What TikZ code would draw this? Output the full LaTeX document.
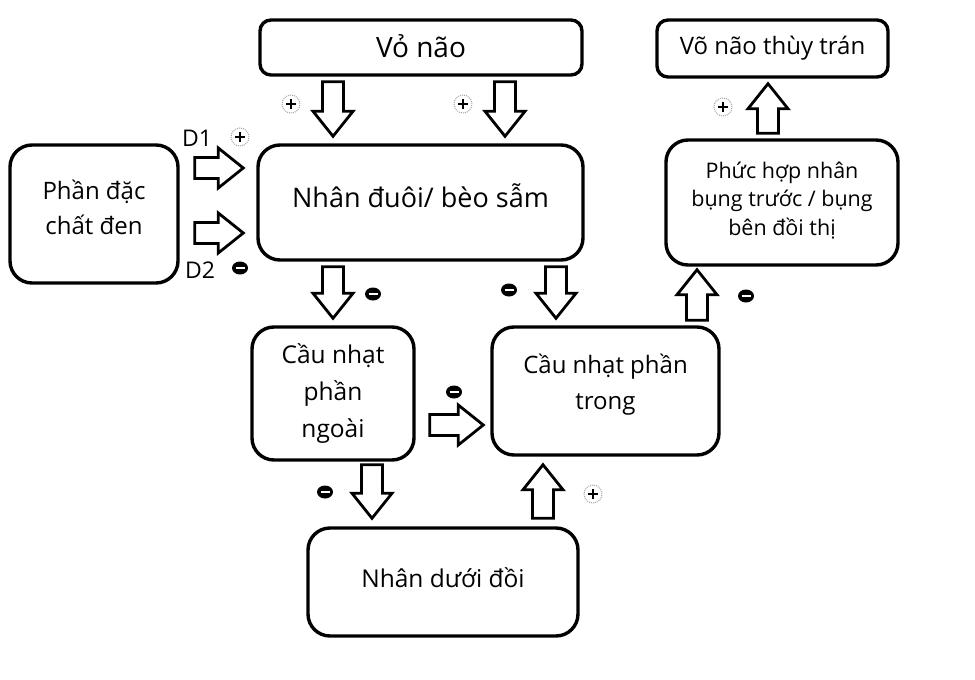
\documentclass[tikz,border=0pt]{standalone}
\usepackage{fontspec}
\setmainfont{Open Sans}
\usetikzlibrary{calc,shapes.geometric}
\tikzset{
  box/.style={draw, line width=3.4pt, rounded corners=22pt, align=center, fill=white, inner sep=2pt},
  smallr/.style={rounded corners=11pt},
  bt/.style={align=center, inner sep=0pt},
  blockarr/.style={draw, line width=2.8pt, fill=white, line join=miter},
  plussign/.style={circle, draw=gray!70, densely dotted, line width=1pt, minimum size=18pt, inner sep=0pt,
    path picture={\draw[black, solid, line width=2.2pt] ([xshift=-5pt]path picture bounding box.center) -- ([xshift=5pt]path picture bounding box.center)
      ([yshift=-5pt]path picture bounding box.center) -- ([yshift=5pt]path picture bounding box.center);}},
  minussign/.style={ellipse, fill=black, minimum width=16pt, minimum height=13pt, inner sep=0pt,
    path picture={\draw[white, line width=2pt] ([xshift=-4.5pt]path picture bounding box.center) -- ([xshift=4.5pt]path picture bounding box.center);}},
  lbl/.style={inner sep=0pt, font=\fontsize{23}{26}\selectfont}
}
\newcommand\barrow[2]{%
  \draw[blockarr] let \p1=(#1), \p2=(#2), \n1={atan2(\y2-\y1,\x2-\x1)}, \n2={veclen(\x2-\x1,\y2-\y1)} in
   [shift={(\p1)}, rotate=\n1] (0,-10.5) -- (\n2-25,-10.5) -- (\n2-25,-20) -- (\n2,0) -- (\n2-25,20) -- (\n2-25,10.5) -- (0,10.5) -- cycle;}
\begin{document}
\begin{tikzpicture}[x=1pt,y=-1pt]
\useasboundingbox (0,0) rectangle (975,680);
\fill[white] (0,0) rectangle (975,680);
\node[box, smallr, minimum width=322pt, minimum height=55pt,
  label={[bt, font=\fontsize{28}{30}\selectfont, yshift=1pt]center:Vỏ não}] (vo) at (421,47.5) {};
\node[box, smallr, minimum width=231pt, minimum height=57pt,
  label={[bt, font=\fontsize{24}{30}\selectfont, yshift=0pt]center:Võ não thùy trán}] (vtt) at (772.5,48.5) {};
\node[box, minimum width=325pt, minimum height=115pt,
  label={[bt, font=\fontsize{27}{34}\selectfont, yshift=7pt]center:Nhân đuôi/ bèo sẫm}] (nd) at (420.5,202.5) {};
\node[box, minimum width=168pt, minimum height=138pt,
  label={[bt, font=\fontsize{24}{35}\selectfont, yshift=6.5pt]center:{Phần đặc\\chất đen}}] (sn) at (94,214) {};
\node[box, minimum width=232pt, minimum height=125pt,
  label={[bt, font=\fontsize{21.5}{28.5}\selectfont, yshift=2pt]center:{Phức hợp nhân\\bụng trước / bụng\\bên đồi thị}}] (ph) at (782,202.5) {};
\node[box, minimum width=162pt, minimum height=133pt,
  label={[bt, font=\fontsize{24.5}{37}\selectfont, yshift=0pt]center:{Cầu nhạt\\phần\\ngoài}}] (cn) at (333,393.5) {};
\node[box, minimum width=227pt, minimum height=128pt,
  label={[bt, font=\fontsize{24}{36}\selectfont, yshift=6pt]center:{Cầu nhạt phần\\trong}}] (ct) at (605.5,391) {};
\node[box, minimum width=270pt, minimum height=108pt,
  label={[bt, font=\fontsize{24.5}{30}\selectfont, yshift=4pt]center:Nhân dưới đồi}] (ndd) at (443,582) {};
% block arrows
\barrow{$(vo.south)+(-88,5)$}{$(nd.north)+(-87.5,-7)$}
\barrow{$(vo.south)+(84,5)$}{$(nd.north)+(84.5,-7)$}
\barrow{$(sn.east)+(15,-46)$}{$(nd.west)+(-13,-34.5)$}
\barrow{$(sn.east)+(15,19)$}{$(nd.west)+(-13,30.5)$}
\barrow{$(nd.south)+(-87.5,5)$}{$(cn.north)+(0,-7)$}
\barrow{$(nd.south)+(135.5,5)$}{$(ct.north)+(-49.5,-7)$}
\barrow{$(cn.east)+(14,31.5)$}{$(ct.west)+(-7,34)$}
\barrow{$(cn.south)+(39,3)$}{$(ndd.north)+(-71,-8)$}
\barrow{$(ndd.north)+(100,-8)$}{$(ct.south)+(-62.5,8)$}
\barrow{$(ct.north)+(91.5,-5)$}{$(ph.south)+(-85,3)$}
\barrow{$(ph.north)+(-14,-5)$}{$(vtt.south)+(-4.5,5)$}
% signs
\node[plussign] (p1) at (291,104) {};
\node[plussign] (p2) at (463,104) {};
\node[plussign] (p3) at (240,137) {};
\node[plussign] (p4) at (723,107) {};
\node[plussign] (p5) at (593,494) {};
\node[minussign] (m1) at (240,268) {};
\node[minussign] (m2) at (373,294) {};
\node[minussign] (m3) at (509,290) {};
\node[minussign] (m4) at (454,392) {};
\node[minussign] (m5) at (325,492) {};
\node[minussign] (m6) at (746,296) {};
\node[lbl] (d1) at (197,138) {D1};
\node[lbl] (d2) at (200,270) {D2};
\end{tikzpicture}
\end{document}
